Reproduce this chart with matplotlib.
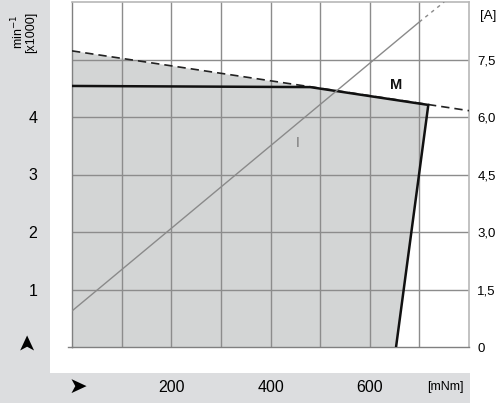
import matplotlib
matplotlib.use("Agg")
import matplotlib.pyplot as plt
from matplotlib.patches import Rectangle

plt.rcParams['font.family'] = ['Liberation Sans', 'DejaVu Sans']

# ---- data ----
# no-load speed / torque line (dashed), speed in min-1 x1000
dash_torque = [0, 800]
dash_speed = [5.15, 4.11]
# operating limit (M), thick solid
lim_torque = [0, 480, 718, 653]
lim_speed = [4.54, 4.52, 4.21, 0.0]
# shaded operating area outline
area_torque = [0, 0, 480, 718, 653]
area_speed = [0.0, 5.15, 4.52, 4.21, 0.0]
# current line (I), amperes
cur_torque_solid = [0, 700]
cur_amp_solid = [0.94, 8.48]
cur_torque_dash = [700, 750]
cur_amp_dash = [8.48, 9.0]

x_ticks = [200, 400, 600]
x_labels = ['200', '400', '600']
y_ticks = [1, 2, 3, 4]
y_labels = ['1', '2', '3', '4']
a_ticks = [0, 1.5, 3.0, 4.5, 6.0, 7.5]
a_labels = ['0', '1,5', '3,0', '4,5', '6,0', '7,5']

W, H = 500, 405
fig = plt.figure(figsize=(W / 100, H / 100), dpi=100, facecolor='white')

band = '#dcdddf'
fig.patches.append(Rectangle((0, 32 / H), 50 / W, 373 / H, transform=fig.transFigure,
                             facecolor=band, edgecolor='none', zorder=-5))
fig.patches.append(Rectangle((0, 2 / H), 470 / W, 30 / H, transform=fig.transFigure,
                             facecolor=band, edgecolor='none', zorder=-5))

ax = fig.add_axes([72 / W, 58 / H, 397 / W, 345 / H])
ax.set_facecolor('none')
ax.set_xlim(0, 800)
ax.set_ylim(0, 6)

grid_c = '#8c8c8c'
for x in range(100, 800, 100):
    ax.axvline(x, color=grid_c, lw=1.0, zorder=2)
for y in range(1, 6):
    ax.axhline(y, color=grid_c, lw=1.0, zorder=2)

ax.fill(area_torque, area_speed, color='#d3d5d5', zorder=1, lw=0)
ax.plot(dash_torque, dash_speed, color='#222222', lw=1.2, ls=(0, (5, 3)), zorder=4)
ax.plot(lim_torque, lim_speed, color='#111111', lw=1.8, zorder=5,
        solid_joinstyle='miter')

for s in ['top', 'right']:
    ax.spines[s].set_color('#b8b8b8')
    ax.spines[s].set_linewidth(1.2)
for s in ['left', 'bottom']:
    ax.spines[s].set_color('#808080')
    ax.spines[s].set_linewidth(1.0)

ax.set_xticks(x_ticks)
ax.set_xticklabels(x_labels, fontsize=11.5)
ax.set_yticks(y_ticks)
ax.set_yticklabels(y_labels, fontsize=11.5)
ax.tick_params(axis='x', length=0, pad=24)
ax.tick_params(axis='y', length=0, pad=25)

ax2 = ax.twinx()
ax2.set_ylim(0, 9)
ax2.plot(cur_torque_solid, cur_amp_solid, color='#8a8a8a', lw=1.0, zorder=3)
ax2.plot(cur_torque_dash, cur_amp_dash, color='#8a8a8a', lw=1.0, ls=(0, (2.5, 3)), zorder=3)
ax2.set_yticks(a_ticks)
ax2.set_yticklabels(a_labels, fontsize=9.5)
ax2.tick_params(axis='y', length=0, pad=6)
for s in ax2.spines.values():
    s.set_visible(False)

ax.text(454, 3.55, 'I', fontsize=10, color='#777777', ha='center', va='center', zorder=6)
ax.text(653, 4.56, 'M', fontsize=10.5, color='#111111', ha='center', va='center',
        fontweight='bold', zorder=6)

# small extension of the bottom axis to the left
ax.plot([-8, 0], [0, 0], color='#808080', lw=1.0, clip_on=False)

def ft(x, y, s, **kw):
    fig.text(x / W, 1 - y / H, s, **kw)

ft(488, 16, '[A]', fontsize=9.5, ha='center', va='center')
ft(445, 387, '[mNm]', fontsize=9, ha='center', va='center')
ft(18, 32, 'min$^{-1}$', fontsize=9, rotation=90, ha='center', va='center')
ft(31, 32, '[x1000]', fontsize=9, rotation=90, ha='center', va='center')
ft(26, 341, '\u27a4', fontsize=16, rotation=90, ha='center', va='center',
   family=['DejaVu Sans'])
ft(78, 387, '\u27a4', fontsize=16, ha='center', va='center', family=['DejaVu Sans'])

fig.savefig('out.png', dpi=100, facecolor='white')
